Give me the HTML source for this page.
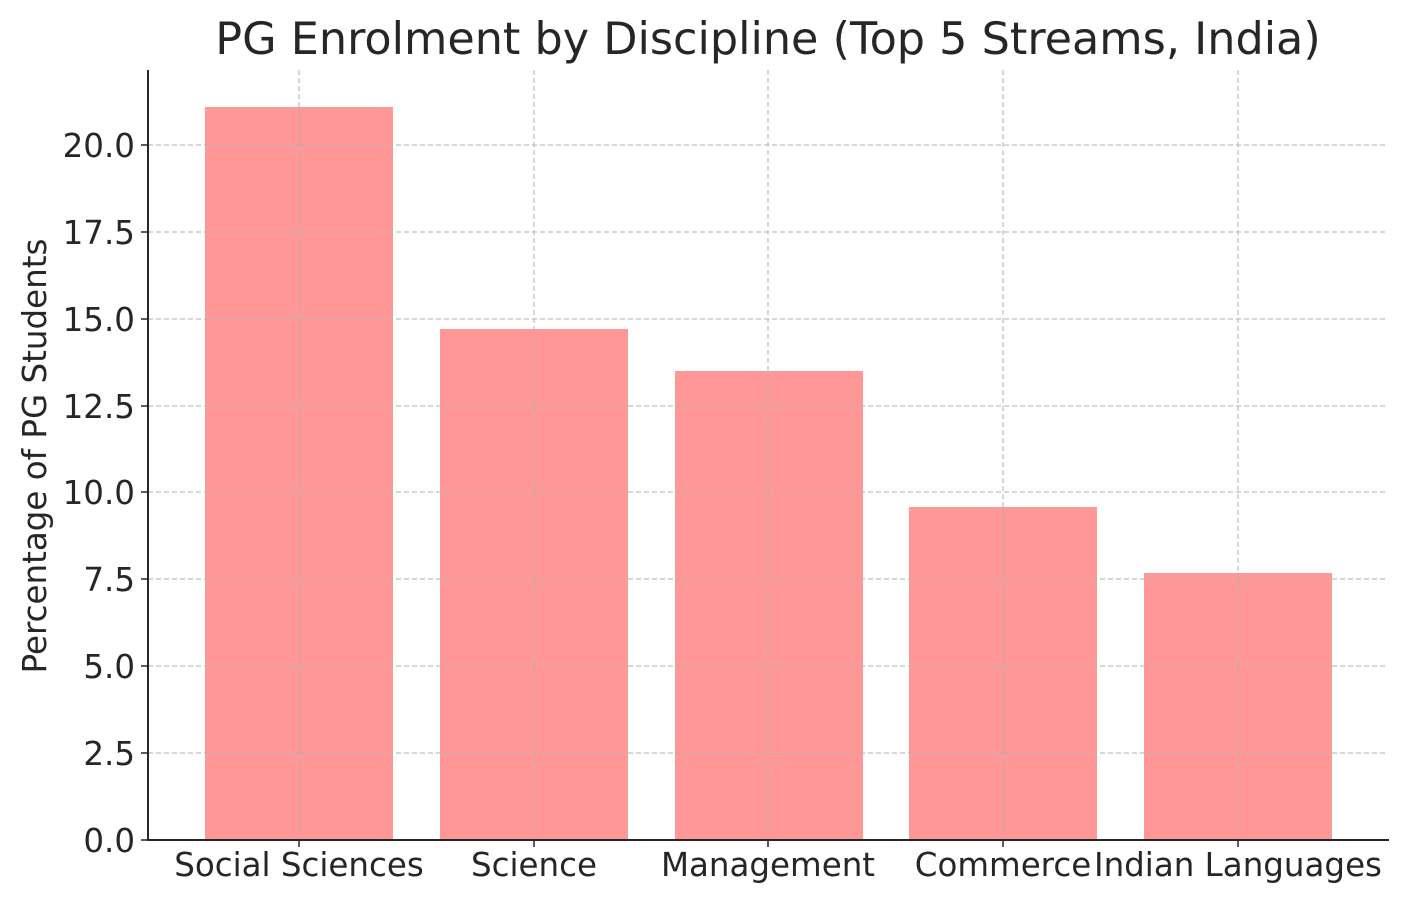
<!DOCTYPE html>
<html><head><meta charset="utf-8"><style>
html,body{margin:0;padding:0;background:#fff;}
svg{display:block;}
text{font-family:"DejaVu Sans","Liberation Sans",sans-serif;fill:#262626;}
</style></head><body>
<svg width="1408" height="903" viewBox="0 0 1408 903" xmlns="http://www.w3.org/2000/svg">
<rect width="1408" height="903" fill="#fff"/>
<g fill="#ff9797">
<rect x="205" y="107" width="188" height="733"/>
<rect x="440" y="329" width="188" height="511"/>
<rect x="675" y="371" width="188" height="469"/>
<rect x="909" y="507" width="188" height="333"/>
<rect x="1144" y="573" width="188" height="267"/>
</g>
<g stroke="#b0b0b0" stroke-width="1.2" stroke-dasharray="5,3" opacity="0.8">
<line x1="148" x2="1388" y1="753" y2="753"/>
<line x1="148" x2="1388" y1="666" y2="666"/>
<line x1="148" x2="1388" y1="579" y2="579"/>
<line x1="148" x2="1388" y1="492" y2="492"/>
<line x1="148" x2="1388" y1="406" y2="406"/>
<line x1="148" x2="1388" y1="319" y2="319"/>
<line x1="148" x2="1388" y1="232" y2="232"/>
<line x1="148" x2="1388" y1="145" y2="145"/>
<line x1="299" x2="299" y1="70" y2="840"/>
<line x1="534" x2="534" y1="70" y2="840"/>
<line x1="768" x2="768" y1="70" y2="840"/>
<line x1="1003" x2="1003" y1="70" y2="840"/>
<line x1="1238" x2="1238" y1="70" y2="840"/>
</g>
<g stroke="#262626" stroke-width="2">
<line x1="148" y1="70" x2="148" y2="841"/>
<line x1="147" y1="840" x2="1389" y2="840"/>
</g>
<g stroke="#262626" stroke-width="1.5">
<line x1="141" x2="148" y1="840" y2="840"/><line x1="141" x2="148" y1="753" y2="753"/>
<line x1="141" x2="148" y1="666" y2="666"/><line x1="141" x2="148" y1="579" y2="579"/>
<line x1="141" x2="148" y1="492" y2="492"/><line x1="141" x2="148" y1="406" y2="406"/>
<line x1="141" x2="148" y1="319" y2="319"/><line x1="141" x2="148" y1="232" y2="232"/>
<line x1="141" x2="148" y1="145" y2="145"/>
<line x1="299" x2="299" y1="840" y2="847"/><line x1="534" x2="534" y1="840" y2="847"/>
<line x1="768" x2="768" y1="840" y2="847"/><line x1="1003" x2="1003" y1="840" y2="847"/>
<line x1="1238" x2="1238" y1="840" y2="847"/>
</g>
<g font-size="32.5" text-anchor="end">
<text x="135" y="852">0.0</text><text x="135" y="765">2.5</text>
<text x="135" y="678">5.0</text><text x="135" y="591">7.5</text>
<text x="135" y="504">10.0</text><text x="135" y="418">12.5</text>
<text x="135" y="331">15.0</text><text x="135" y="244">17.5</text>
<text x="135" y="157">20.0</text>
</g>
<g font-size="32.5" text-anchor="middle">
<text x="299" y="876">Social Sciences</text>
<text x="534" y="876">Science</text>
<text x="768" y="876">Management</text>
<text x="1003" y="876">Commerce</text>
<text x="1238" y="876">Indian Languages</text>
</g>
<text x="46" y="456" font-size="32.5" text-anchor="middle" transform="rotate(-90 46 456)">Percentage of PG Students</text>
<text x="768" y="54" font-size="44.5" text-anchor="middle">PG Enrolment by Discipline (Top 5 Streams, India)</text>
</svg>
</body></html>
